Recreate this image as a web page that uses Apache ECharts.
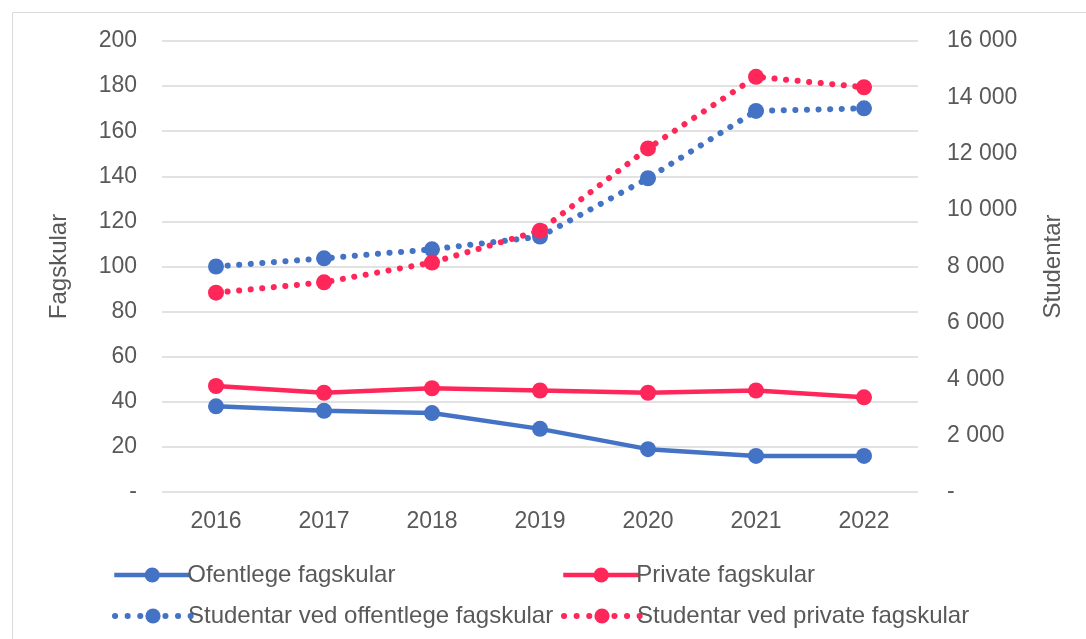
<!DOCTYPE html>
<html>
<head>
<meta charset="utf-8">
<script src="https://cdn.jsdelivr.net/npm/echarts@6/dist/echarts.min.js"></script>
<style>
html, body { margin: 0; padding: 0; background: #fff; }
#chart { width: 1086px; height: 639px; }
</style>
</head>
<body>
<div id="chart"></div>
<script>
var years = ['2016', '2017', '2018', '2019', '2020', '2021', '2022'];
var ofentlege = [38, 36, 35, 28, 19, 16, 16];
var private_ = [47, 44, 46, 45, 44, 45, 42];
var studOfentlege = [8000, 8290, 8610, 9060, 11130, 13520, 13610];
var studPrivate = [7070, 7440, 8140, 9270, 12190, 14730, 14360];

var blue = '#4472C4';
var red = '#FF265A';
var txt = '#595959';
var font = 'Liberation Sans, Arial, sans-serif';

var dom = document.getElementById('chart');
var myChart = echarts.init(dom);

function fmtThousands(v) {
    if (v === 0) return '-';
    return String(v).replace(/\B(?=(\d{3})+(?!\d))/g, ' ');
}

function legendAt(name, left, top, dotted) {
    return {
        data: [name],
        left: left,
        top: top,
        itemWidth: 76,
        itemHeight: 19,
        itemGap: 0,
        lineStyle: dotted ? { width: 6, type: [0.1, 12.5], cap: 'round' } : { width: 4.5 },
        textStyle: { color: txt, fontSize: 24, fontFamily: font, padding: [0, 0, 0, -8] }
    };
}

var option = {
    animation: false,
    graphic: [{
        type: 'rect',
        shape: { x: 12.5, y: 12.5, width: 1090, height: 650 },
        style: { fill: 'none', stroke: '#d9d9d9', lineWidth: 1 }
    }],
    grid: { left: 162, right: 168, top: 41, bottom: 147 },
    legend: [
        legendAt('Ofentlege fagskular', 107, 558, false),
        legendAt('Private fagskular', 556, 558, false),
        legendAt('Studentar ved offentlege fagskular', 107, 599, true),
        legendAt('Studentar ved private fagskular', 556, 599, true)
    ],
    xAxis: {
        type: 'category',
        data: years,
        axisLine: { show: false },
        axisTick: { show: false },
        axisLabel: { color: txt, fontSize: 23, fontFamily: font, margin: 18 }
    },
    yAxis: [{
        type: 'value',
        min: 0, max: 200, interval: 20,
        name: 'Fagskular',
        nameLocation: 'middle',
        nameGap: 91,
        nameTextStyle: { color: txt, fontSize: 24, fontFamily: font },
        axisLabel: {
            color: txt, fontSize: 23, fontFamily: font, margin: 25,
            formatter: function (v) { return v === 0 ? '-' : v; }
        },
        splitLine: { lineStyle: { color: '#d9d9d9', width: 1.5 } }
    }, {
        type: 'value',
        min: 0, max: 16000, interval: 2000,
        name: 'Studentar',
        nameLocation: 'middle',
        nameGap: 123,
        nameTextStyle: { color: txt, fontSize: 24, fontFamily: font },
        axisLabel: { color: txt, fontSize: 23, fontFamily: font, margin: 29, formatter: fmtThousands },
        splitLine: { show: false }
    }],
    series: [{
        name: 'Ofentlege fagskular',
        type: 'line',
        yAxisIndex: 0,
        data: ofentlege,
        color: blue,
        symbol: 'circle',
        symbolSize: 16,
        lineStyle: { width: 4.5, color: blue },
        itemStyle: { color: blue }
    }, {
        name: 'Private fagskular',
        type: 'line',
        yAxisIndex: 0,
        data: private_,
        color: red,
        symbol: 'circle',
        symbolSize: 16,
        lineStyle: { width: 4.5, color: red },
        itemStyle: { color: red }
    }, {
        name: 'Studentar ved offentlege fagskular',
        type: 'line',
        yAxisIndex: 1,
        data: studOfentlege,
        color: blue,
        symbol: 'circle',
        symbolSize: 16,
        lineStyle: { width: 6, color: blue, type: [0.1, 11.5], cap: 'round' },
        itemStyle: { color: blue }
    }, {
        name: 'Studentar ved private fagskular',
        type: 'line',
        yAxisIndex: 1,
        data: studPrivate,
        color: red,
        symbol: 'circle',
        symbolSize: 16,
        lineStyle: { width: 6, color: red, type: [0.1, 11.5], cap: 'round' },
        itemStyle: { color: red }
    }]
};

if (option && typeof option === "object") {
    myChart.setOption(option, true);
}
</script>
</body>
</html>
